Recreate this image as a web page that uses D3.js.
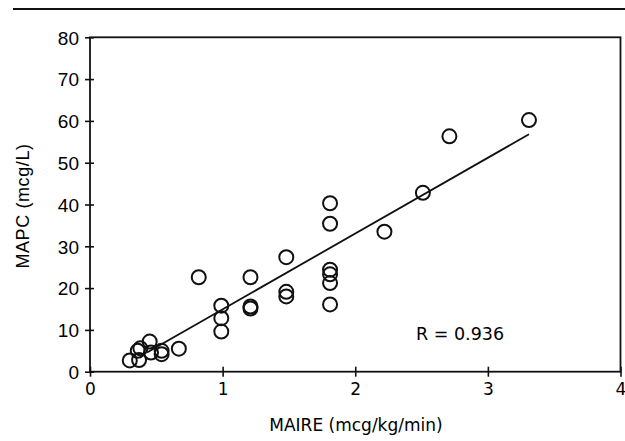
<!DOCTYPE html>
<html>
<head>
<meta charset="utf-8">
<script src="https://cdn.jsdelivr.net/npm/d3@7"></script>
<style>
  body { margin: 0; background: #fff; }
  svg { display: block; }
  text { fill: #000; }
</style>
</head>
<body>
<div class="svg-container"></div>
<script>
// MAIRE (x) vs MAPC (y) points
var maire = [0.30, 0.37, 0.36, 0.38, 0.45, 0.46, 0.54, 0.54, 0.67,
             0.82, 0.99, 0.99, 0.99, 1.21, 1.21, 1.21,
             1.48, 1.48, 1.48, 1.81, 1.81, 1.81, 1.81, 1.81, 1.81,
             2.22, 2.51, 2.71, 3.31];
var mapc  = [2.7, 2.8, 5.0, 5.6, 7.2, 4.6, 5.0, 4.2, 5.5,
             22.6, 15.8, 12.8, 9.6, 22.6, 15.6, 15.1,
             27.4, 19.1, 18.0, 40.3, 35.4, 24.4, 23.3, 21.2, 16.1,
             33.5, 42.8, 56.3, 60.2];

// regression line end points
var lineX = [0.43, 3.31];
var lineY = [4.6, 56.8];

var xTicks = [0, 1, 2, 3, 4];
var yTicks = [0, 10, 20, 30, 40, 50, 60, 70, 80];

render();

function render(){
    var width = 625;
    var height = 441;
    var left = 90, right = 620.5, top = 37.3, bottom = 371.7;

    var svg = d3.select(".svg-container").append("svg")
    .attr("width", width)
    .attr("height", height);

    var x = d3.scaleLinear().domain([0, 4]).range([left, right]);
    var y = d3.scaleLinear().domain([0, 80]).range([bottom, top]);

    // rule at top of the page
    svg.append("line")
    .attr("x1", 13).attr("x2", 625)
    .attr("y1", 9).attr("y2", 9)
    .style("stroke", "#111")
    .style("stroke-width", 2.2);

    // frame
    svg.append("rect")
    .attr("x", left).attr("y", top)
    .attr("width", right - left).attr("height", bottom - top)
    .style("fill", "none")
    .style("stroke", "#111")
    .style("stroke-width", 1.8);

    // Y axis
    svg.append("g")
    .attr("transform", "translate(" + left + ",0)")
    .call(d3.axisLeft(y).tickValues(yTicks).tickSize(5).tickFormat(d3.format("d")))
    .call(function(g){
        g.select(".domain").remove();
        g.selectAll(".tick line").attr("x2", 4).attr("x1", -5)
          .style("stroke", "#111").style("stroke-width", 1.6);
        g.selectAll(".tick text")
          .style("font-family", "'Liberation Sans', Arial, sans-serif")
          .style("font-size", "19px")
          .attr("x", -11)
          .attr("dy", "0.36em");
    });

    // X axis
    svg.append("g")
    .attr("transform", "translate(0," + bottom + ")")
    .call(d3.axisBottom(x).tickValues(xTicks).tickSize(5).tickFormat(d3.format("d")))
    .call(function(g){
        g.select(".domain").remove();
        g.selectAll(".tick line").attr("y1", -5).attr("y2", 5)
          .style("stroke", "#111").style("stroke-width", 1.6);
        g.selectAll(".tick text")
          .style("font-family", "'DejaVu Sans', sans-serif")
          .style("font-size", "17px")
          .attr("y", 11)
          .attr("dy", "0.71em");
    });

    // X Axis Label
    svg.append("text")
    .attr("x", 356)
    .attr("y", 431)
    .style("text-anchor", "middle")
    .style("font-family", "'DejaVu Sans', sans-serif")
    .style("font-size", "17px")
    .text("MAIRE (mcg/kg/min)");

    // Y Axis Label
    svg.append("text")
    .attr("transform", "translate(29,206) rotate(-90)")
    .style("text-anchor", "middle")
    .style("font-family", "'Liberation Sans', Arial, sans-serif")
    .style("font-size", "18px")
    .style("letter-spacing", "0.6px")
    .text("MAPC (mcg/L)");

    // regression line
    var lineData = lineX.map(function(d, i){ return [d, lineY[i]]; });
    svg.append("path")
    .datum(lineData)
    .attr("d", d3.line().x(function(d){ return x(d[0]); }).y(function(d){ return y(d[1]); }))
    .attr("fill", "none")
    .attr("stroke", "#111")
    .attr("stroke-width", 1.8);

    // points
    svg.selectAll("circle.pt")
    .data(maire)
    .enter().append("circle")
    .attr("class", "pt")
    .attr("cx", function(d){ return x(d); })
    .attr("cy", function(d, i){ return y(mapc[i]); })
    .attr("r", 7)
    .style("fill", "none")
    .style("stroke", "#111")
    .style("stroke-width", 2);

    // R label
    svg.append("text")
    .attr("x", 416)
    .attr("y", 340)
    .style("font-family", "'DejaVu Sans', sans-serif")
    .style("font-size", "17.5px")
    .text("R = 0.936");
}
</script>
</body>
</html>
